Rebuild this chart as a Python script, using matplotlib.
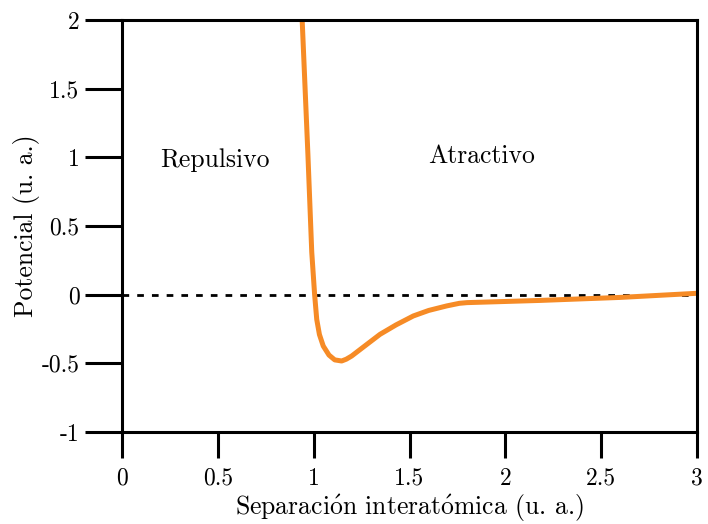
import matplotlib
matplotlib.use("Agg")
import matplotlib.pyplot as plt

# potential curve
sep = [0.94, 0.97, 0.99, 1.005, 1.016, 1.03, 1.05, 1.08, 1.11, 1.146, 1.17, 1.198,
       1.27, 1.346, 1.43, 1.52, 1.6, 1.694, 1.76, 1.80, 2.18, 2.6, 3.0]
pot = [2.0, 1.02, 0.31, 0.0, -0.18, -0.29, -0.374, -0.44, -0.475, -0.483, -0.47, -0.447,
       -0.37, -0.289, -0.22, -0.155, -0.115, -0.082, -0.063, -0.058, -0.042, -0.02, 0.01]

xticks = [0, 0.5, 1, 1.5, 2, 2.5, 3]
xlabels = ["0", "0.5", "1", "1.5", "2", "2.5", "3"]
yticks = [-1, -0.5, 0, 0.5, 1, 1.5, 2]
ylabels = ["-1", "-0.5", "0", "0.5", "1", "1.5", "2"]

plt.rcParams["font.family"] = ["cmr10", "DejaVu Serif"]
plt.rcParams["mathtext.fontset"] = "cm"
plt.rcParams["axes.unicode_minus"] = False

fig = plt.figure(figsize=(7.08, 5.24), dpi=100)
ax = fig.add_axes([0.1723, 0.1756, 0.8122, 0.7862])

ax.axhline(0, color="black", lw=2.0, ls=(0, (2.4, 2.9)), zorder=1)
ax.plot(sep, pot, color="#f68b26", lw=3.6, solid_joinstyle="round",
        solid_capstyle="round", zorder=2)

ax.text(0.485, 0.98, "Repulsivo", fontsize=18.5, ha="center", va="center")
ax.text(1.878, 1.01, "Atractivo", fontsize=18.5, ha="center", va="center")

ax.set_xlim(0, 3)
ax.set_ylim(-1, 2)
ax.set_xticks(xticks)
ax.set_xticklabels(xlabels)
ax.set_yticks(yticks)
ax.set_yticklabels(ylabels)
ax.tick_params(axis="y", direction="out", length=26.6, width=2.2, pad=4, labelsize=17)
ax.tick_params(axis="x", direction="out", length=18.7, width=2.2, pad=7, labelsize=17)
for s in ax.spines.values():
    s.set_linewidth(2.2)

# cmr10 has no precomposed accented letters, so use mathtext accents
ax.set_xlabel(r"Separaci$\acute{\mathrm{o}}$n interat$\acute{\mathrm{o}}$mica (u. a.)",
              fontsize=18.5, labelpad=2)
ax.set_ylabel("Potencial (u. a.)", fontsize=18.5, labelpad=1)

fig.savefig("out.png", dpi=100)
